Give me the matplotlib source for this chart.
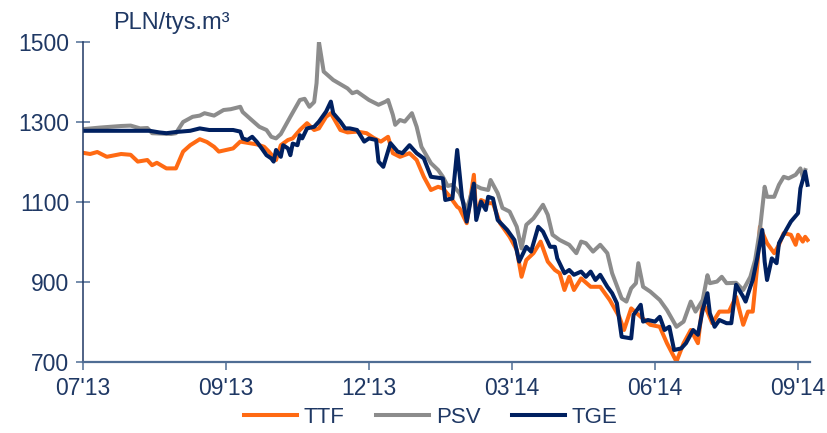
import matplotlib.pyplot as plt

plt.rcParams['font.family'] = ['Liberation Sans', 'DejaVu Sans']

# dzień notowań (indeks) i ceny w PLN/tys. m3
ttf_d = [0, 3, 6, 10, 16, 20, 23, 27, 29, 31, 35, 39, 42, 45, 49, 52, 55, 57, 60, 63,
         66, 70, 73, 76, 78, 81, 83, 86, 88, 91, 94, 97, 99, 102, 104, 108, 111, 115, 119, 122,
         125, 128, 130, 133, 137, 140, 143, 146, 149, 151, 154, 157, 158, 161, 164, 165, 167, 170, 172, 175,
         179, 182, 184, 186, 189, 192, 195, 198, 200, 202, 204, 206, 209, 213, 217, 221, 225, 227, 230, 234,
         238, 242, 245, 249, 252, 255, 258, 260, 262, 264, 267, 271, 274, 277, 279, 281, 283, 284, 287, 290,
         292, 294, 297, 299, 300, 302, 303, 304]
ttf_v = [1223, 1220, 1225, 1213, 1220, 1218, 1201, 1205, 1192, 1198, 1184, 1184, 1226, 1242, 1257, 1250, 1238, 1226, 1230, 1234,
         1251, 1247, 1244, 1238, 1226, 1205, 1242, 1255, 1259, 1280, 1297, 1280, 1284, 1313, 1322, 1280, 1274, 1276, 1272, 1260,
         1251, 1263, 1222, 1213, 1222, 1205, 1163, 1130, 1138, 1134, 1113, 1088, 1084, 1047, 1168, 1063, 1105, 1097, 1097, 1047,
         1013, 980, 913, 955, 972, 1001, 951, 930, 922, 880, 913, 880, 909, 888, 888, 855, 813, 780, 834, 813,
         793, 788, 747, 701, 747, 780, 747, 847, 826, 797, 826, 826, 863, 793, 826, 826, 947, 1038, 997, 972,
         993, 1022, 1018, 993, 1018, 1001, 1013, 1005]

psv_d = [0, 7, 16, 20, 24, 27, 29, 37, 39, 42, 46, 49, 51, 55, 59, 62, 66, 67, 70, 74,
         77, 79, 81, 83, 87, 91, 93, 95, 97, 98, 99, 101, 105, 111, 113, 115, 120, 124, 127, 128,
         130, 131, 133, 135, 138, 140, 142, 146, 149, 151, 153, 155, 158, 161, 164, 167, 170, 171, 174, 176,
         179, 182, 184, 186, 189, 193, 195, 197, 200, 204, 207, 209, 211, 214, 217, 220, 222, 226, 228, 230,
         232, 233, 235, 238, 242, 245, 249, 252, 255, 257, 260, 262, 263, 266, 268, 270, 274, 277, 280, 282,
         284, 286, 287, 290, 292, 294, 296, 299, 301, 302, 303]
psv_v = [1282, 1286, 1290, 1291, 1284, 1285, 1272, 1270, 1272, 1300, 1313, 1316, 1322, 1316, 1330, 1332, 1338, 1325, 1309, 1288,
         1280, 1263, 1259, 1270, 1313, 1355, 1358, 1338, 1350, 1397, 1500, 1426, 1405, 1384, 1372, 1376, 1355, 1343, 1351, 1355,
         1318, 1293, 1305, 1301, 1322, 1288, 1238, 1197, 1180, 1163, 1140, 1143, 1122, 1080, 1143, 1134, 1130, 1155, 1122, 1085,
         1076, 1038, 984, 1043, 1059, 1093, 1068, 1018, 1005, 993, 972, 1001, 997, 976, 993, 972, 922, 859, 851, 884,
         897, 947, 888, 876, 855, 830, 788, 801, 851, 826, 855, 917, 897, 901, 913, 897, 898, 880, 913, 955,
         1030, 1138, 1113, 1113, 1143, 1163, 1159, 1168, 1184, 1163, 1180]

tge_d = [0, 11, 20, 28, 32, 35, 39, 45, 49, 53, 63, 66, 67, 69, 71, 73, 75, 77, 79, 80,
         81, 83, 84, 86, 87, 88, 90, 91, 92, 94, 97, 99, 102, 104, 105, 108, 110, 112, 115, 118,
         120, 123, 124, 126, 129, 132, 134, 137, 140, 143, 146, 151, 152, 155, 157, 159, 161, 164, 165, 167,
         169, 170, 172, 174, 178, 181, 183, 186, 188, 191, 193, 196, 198, 199, 202, 204, 206, 209, 211, 213,
         215, 217, 220, 222, 224, 226, 230, 231, 234, 235, 237, 240, 242, 244, 246, 248, 251, 253, 256, 258,
         260, 262, 263, 265, 267, 270, 272, 274, 277, 278, 280, 281, 283, 285, 286, 287, 289, 291, 292, 295,
         297, 300, 301, 303, 304]
tge_v = [1278, 1278, 1278, 1278, 1274, 1272, 1275, 1278, 1284, 1280, 1280, 1276, 1259, 1255, 1263, 1250, 1234, 1217, 1209, 1201,
         1230, 1213, 1242, 1234, 1217, 1246, 1242, 1267, 1259, 1284, 1288, 1301, 1326, 1351, 1322, 1301, 1284, 1284, 1280, 1251,
         1259, 1255, 1201, 1188, 1247, 1226, 1222, 1242, 1222, 1209, 1163, 1159, 1105, 1109, 1230, 1113, 1051, 1146, 1055, 1101,
         1080, 1113, 1109, 1055, 1030, 1005, 951, 988, 976, 1038, 1026, 988, 988, 959, 922, 930, 918, 926, 913, 926,
         905, 918, 888, 872, 847, 763, 759, 818, 843, 801, 805, 801, 813, 780, 788, 730, 734, 747, 780, 768,
         830, 872, 822, 788, 805, 797, 797, 893, 863, 851, 888, 905, 963, 1030, 951, 905, 959, 947, 997, 1030,
         1051, 1072, 1134, 1176, 1143]

tick_pos = [0, 60, 120, 180, 240, 300]
tick_lab = ["07'13", "09'13", "12'13", "03'14", "06'14", "09'14"]

navy = '#002060'
txt = '#1F3864'

fig = plt.figure(figsize=(8.28, 4.33), dpi=100)
ax = fig.add_axes([0.1002, 0.164, 0.878, 0.739])

ax.plot(ttf_d, ttf_v, color='#FF6A13', lw=2.9, label='TTF')
ax.plot(psv_d, psv_v, color='#8C8C8C', lw=2.9, label='PSV')
ax.plot(tge_d, tge_v, color=navy, lw=2.9, label='TGE')

ax.set_xlim(0, 305)
ax.set_ylim(700, 1500)
ax.set_yticks([700, 900, 1100, 1300, 1500])
ax.set_xticks(tick_pos)
ax.set_xticklabels(tick_lab)

for s in ['top', 'right']:
    ax.spines[s].set_visible(False)
ax.spines['left'].set_color(txt)
ax.spines['left'].set_linewidth(1.1)
ax.spines['bottom'].set_color('#4F6D94')
ax.spines['bottom'].set_linewidth(1.6)

ax.tick_params(axis='y', direction='inout', length=10, width=1.1, color='#4F6D94',
               labelsize=16.5, labelcolor=txt, pad=5)
ax.tick_params(axis='x', direction='out', length=6, width=1.1, color='#4F6D94',
               labelsize=16.5, labelcolor=txt, pad=5)

fig.text(0.137, 0.922, 'PLN/tys.m³', fontsize=17, color=txt, ha='left', va='bottom')

fig.legend(loc='lower center', bbox_to_anchor=(0.52, -0.035), ncol=3, frameon=False,
           fontsize=16, labelcolor=txt, handlelength=2.4, handletextpad=0.3,
           columnspacing=1.4)

fig.savefig('out.png', dpi=100)
